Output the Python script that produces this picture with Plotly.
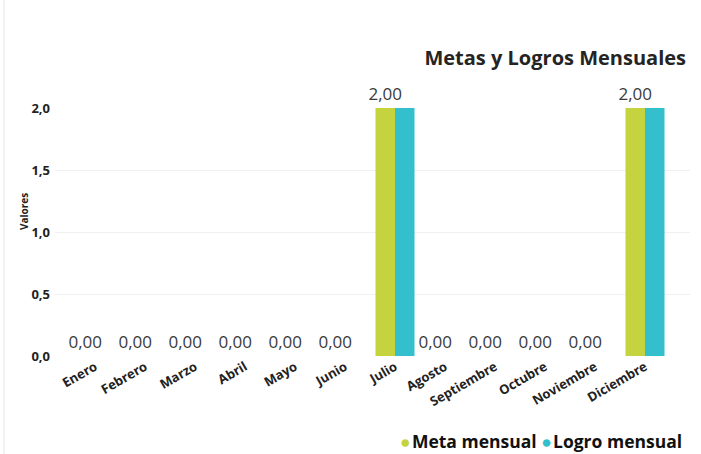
import plotly.graph_objects as go

meses = ['Enero', 'Febrero', 'Marzo', 'Abril', 'Mayo', 'Junio', 'Julio',
         'Agosto', 'Septiembre', 'Octubre', 'Noviembre', 'Diciembre']
meta_mensual = [0, 0, 0, 0, 0, 0, 2, 0, 0, 0, 0, 2]
logro_mensual = [0, 0, 0, 0, 0, 0, 2, 0, 0, 0, 0, 2]
y_ticks = [0, 0.5, 1.0, 1.5, 2.0]

color_meta = '#C5D43E'
color_logro = '#33BFCC'
font_family = 'Open Sans, Noto Sans, sans-serif'

fig = go.Figure()
# solo la serie Meta muestra etiqueta (la de Logro queda oculta por solaparse)
fig.add_trace(go.Bar(
    x=meses, y=meta_mensual, name='Meta mensual',
    marker=dict(color=color_meta, line=dict(width=0)),
    texttemplate='%{y:.2f}', textposition='outside', constraintext='none',
    textfont=dict(size=17, color='#3a3a3a', family=font_family),
    cliponaxis=False, showlegend=False,
))
fig.add_trace(go.Bar(
    x=meses, y=logro_mensual, name='Logro mensual',
    marker=dict(color=color_logro, line=dict(width=0)),
    showlegend=False,
))

fig.update_layout(
    width=701, height=454,
    margin=dict(l=55, r=11, t=108, b=98),
    paper_bgcolor='white', plot_bgcolor='white',
    separators=',.',
    barmode='group', bargap=0.22, bargroupgap=0,
    font=dict(family=font_family, color='#222'),
    title=dict(text='<b>Metas y Logros Mensuales</b>', x=686 / 701, xanchor='right',
               y=1 - 58 / 454, yanchor='middle', font=dict(size=20, color='#252423')),
    xaxis=dict(range=[-0.8, 11.9], tickangle=-30,
               tickfont=dict(size=13, color='#222', weight='bold'),
               showgrid=False, showline=False, zeroline=False, ticks='', automargin=False),
    yaxis=dict(range=[0, 2], tickvals=y_ticks, tickformat='.1f',
               tickfont=dict(size=13, color='#222', weight='bold'), ticklabelstandoff=4,
               showgrid=True, gridcolor='#f0f0f0', zeroline=False, showline=False,
               automargin=False),
)

# titulo del eje Y
fig.add_annotation(text='<b>Valores</b>', xref='paper', yref='paper',
                   x=(15 - 55) / 635, y=(356 - 212) / 248, textangle=-90,
                   showarrow=False, font=dict(size=10, color='#222'))

# leyenda con puntos redondos
sep = "<span style='font-size:5px'> </span>"
leyenda = (f"<span style='color:{color_meta}'>●</span>{sep}<b>Meta mensual</b> "
           f"<span style='color:{color_logro}'>●</span>{sep}<b>Logro mensual</b>")
fig.add_annotation(text=leyenda, xref='paper', yref='paper',
                   x=(684 - 55) / 635, xanchor='right', y=(356 - 441) / 248, yanchor='middle',
                   showarrow=False, font=dict(size=17.5, color='#111'))

# borde gris a la izquierda
fig.add_shape(type='line', xref='paper', yref='paper', x0=(4 - 55) / 635, x1=(4 - 55) / 635,
              y0=-98 / 248, y1=1 + 108 / 248, line=dict(color='#e6e6e6', width=1))

fig.write_html('out.html', config={'displayModeBar': False},
               post_script="document.body.style.margin='0';")
